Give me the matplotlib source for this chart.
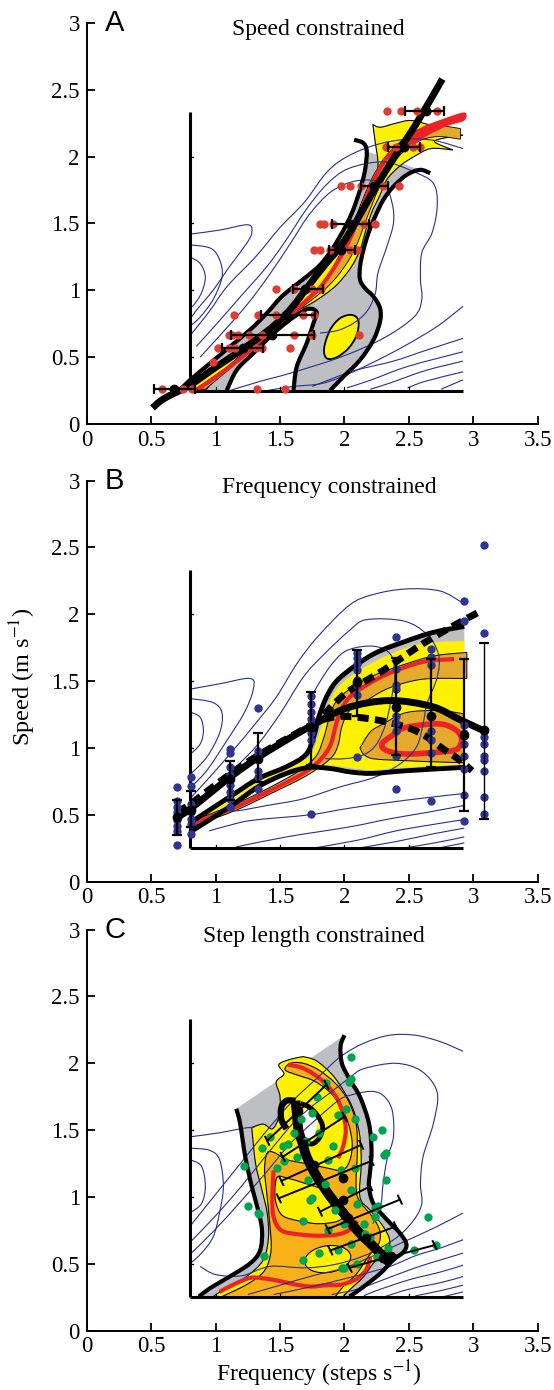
import numpy as np
import matplotlib
matplotlib.use("Agg")
import matplotlib.pyplot as plt
from matplotlib.path import Path
from matplotlib.patches import PathPatch, Ellipse

plt.rcParams['font.family'] = ['Liberation Serif', 'DejaVu Serif']
plt.rcParams['mathtext.fontset'] = 'stix'

NAVY = '#27308f'
GRAY = '#bdbfc2'
YELLOW = '#fff200'
GOLD = '#e5a92b'
ORANGE = '#f8b019'
RED = '#ec2227'
RED_DOT = '#e03c31'
BLUE_DOT = '#2e3592'
GREEN_DOT = '#00a551'

# ---------------- panel A : speed constrained ----------------
a_speed = [0.26, 0.567, 0.666, 0.816, 1.008, 1.303, 1.495, 1.777, 2.069, 2.338]
a_freq_pts = [
    [0.58, 0.67, 0.75, 0.82, 1.32, 1.54],
    [1.02, 1.10, 1.15, 1.22, 1.31, 1.36, 1.58],
    [1.10, 1.13, 1.17, 1.26, 1.36, 1.44, 1.61, 1.75, 2.11],
    [1.14, 1.33, 1.47, 1.55, 1.68, 1.76],
    [1.47, 1.61, 1.69, 1.75, 1.82],
    [1.76, 1.81, 1.89, 1.97, 2.04, 2.10],
    [1.81, 1.84, 1.91, 2.04, 2.15, 2.24],
    [1.97, 2.04, 2.13, 2.23, 2.30, 2.42],
    [2.32, 2.40, 2.46, 2.53, 2.59],
    [2.33, 2.44, 2.56, 2.64, 2.72],
]
a_mean = [0.68, 1.21, 1.44, 1.55, 1.69, 1.97, 2.04, 2.23, 2.46, 2.63]
a_lo = [0.52, 1.05, 1.12, 1.35, 1.60, 1.88, 1.90, 2.13, 2.34, 2.47]
a_hi = [0.84, 1.37, 1.76, 1.77, 1.83, 2.08, 2.19, 2.34, 2.59, 2.77]
a_extra = [(0.98, 0.46)]

a_model = [(0.51, 0.12), (0.60, 0.19), (0.80, 0.29), (1.01, 0.43), (1.27, 0.60), (1.47, 0.75),
           (1.60, 0.88), (1.71, 1.02), (1.84, 1.18), (1.97, 1.33), (2.07, 1.48), (2.17, 1.65),
           (2.28, 1.83), (2.41, 2.03), (2.56, 2.25), (2.76, 2.58)]
a_outer_left = [(2.075, 2.126), (2.147, 2.101), (2.173, 2.039), (2.160, 1.901), (2.121, 1.752),
                (2.057, 1.577), (1.979, 1.427), (1.901, 1.303), (1.811, 1.190), (1.707, 1.103),
                (1.591, 1.016), (1.500, 0.941), (1.397, 0.828), (1.267, 0.704), (1.112, 0.579),
                (0.957, 0.454), (0.802, 0.329), (0.724, 0.255)]
a_right = [(2.665, 1.876), (2.587, 1.901), (2.484, 1.864), (2.380, 1.776), (2.302, 1.677),
           (2.238, 1.552), (2.186, 1.427), (2.147, 1.302), (2.121, 1.178), (2.121, 1.078),
           (2.160, 1.015), (2.225, 0.953), (2.276, 0.866), (2.276, 0.766), (2.225, 0.629),
           (2.121, 0.479), (1.992, 0.354), (1.888, 0.25)]
a_hook = [(1.604, 0.25), (1.630, 0.429), (1.707, 0.604), (1.759, 0.754), (1.785, 0.828),
          (1.759, 0.858), (1.707, 0.858), (1.630, 0.816), (1.526, 0.741), (1.423, 0.654),
          (1.293, 0.529), (1.164, 0.404), (1.086, 0.25)]
a_bulb = [(1.862, 0.491), (1.842, 0.566), (1.888, 0.703), (1.966, 0.791), (2.056, 0.816),
          (2.108, 0.773), (2.095, 0.666), (2.031, 0.566), (1.940, 0.499)]
a_yel_left = [(0.78, 0.26), (1.01, 0.43), (1.27, 0.60), (1.47, 0.75), (1.60, 0.88), (1.71, 1.02),
              (1.84, 1.18), (1.97, 1.33), (2.07, 1.48), (2.17, 1.65), (2.24, 1.80), (2.26, 1.95),
              (2.24, 2.10), (2.22, 2.24)]
a_yel_top = [(2.22, 2.24), (2.28, 2.22), (2.40, 2.25), (2.52, 2.27), (2.68, 2.23), (2.82, 2.18), (2.92, 2.16)]
a_yel_notch = [(2.92, 2.16), (2.78, 2.14), (2.70, 2.11), (2.84, 2.05)]
a_yel_right = [(2.84, 2.05), (2.67, 2.06), (2.54, 2.00), (2.43, 1.93), (2.33, 1.83), (2.27, 1.70),
               (2.21, 1.58), (2.16, 1.43), (2.12, 1.30), (2.05, 1.17), (1.95, 1.05), (1.85, 0.97),
               (1.74, 0.90), (1.62, 0.84), (1.50, 0.76), (1.38, 0.67), (1.25, 0.56), (1.12, 0.45),
               (1.00, 0.34), (0.93, 0.26)]
a_gold_left = [(0.84, 0.26), (1.05, 0.40), (1.25, 0.55), (1.42, 0.69), (1.56, 0.81), (1.69, 0.92),
               (1.80, 1.02), (1.89, 1.14), (1.96, 1.26), (2.03, 1.40), (2.09, 1.55), (2.15, 1.70),
               (2.22, 1.85), (2.31, 1.99), (2.42, 2.10), (2.55, 2.19), (2.72, 2.23), (2.90, 2.21)]
a_gold_right = [(2.90, 2.13), (2.72, 2.15), (2.56, 2.11), (2.44, 2.02), (2.35, 1.91), (2.27, 1.77),
                (2.21, 1.63), (2.15, 1.48), (2.10, 1.35), (2.03, 1.22), (1.94, 1.10), (1.84, 1.00),
                (1.72, 0.91), (1.60, 0.82), (1.46, 0.71), (1.33, 0.60), (1.18, 0.47), (1.02, 0.34), (0.92, 0.26)]
a_red = [(0.86, 0.26), (1.03, 0.37), (1.18, 0.48), (1.33, 0.60), (1.47, 0.72), (1.60, 0.83),
         (1.71, 0.93), (1.81, 1.02), (1.90, 1.14), (1.97, 1.25), (2.04, 1.38), (2.10, 1.52),
         (2.16, 1.67), (2.22, 1.81), (2.30, 1.95), (2.40, 2.06), (2.52, 2.15), (2.70, 2.22), (2.93, 2.29)]
a_red_flare = [(2.45, 2.13), (2.60, 2.22), (2.76, 2.28), (2.93, 2.33), (2.93, 2.27), (2.80, 2.23),
               (2.65, 2.16), (2.52, 2.08)]
a_contours = [
    [(0.80, 1.42), (1.03, 1.45), (1.25, 1.49), (1.28, 1.43), (1.24, 1.35), (1.11, 1.18), (0.98, 1.00), (0.85, 0.85), (0.80, 0.78)],
    [(0.80, 1.34), (0.96, 1.315), (1.03, 1.23), (1.05, 1.10), (0.98, 0.93), (0.88, 0.80), (0.80, 0.73)],
    [(0.80, 1.25), (0.88, 1.20), (0.92, 1.10), (0.89, 0.98), (0.83, 0.89), (0.80, 0.87)],
    [(0.80, 0.66), (0.95, 0.84), (1.09, 1.03), (1.31, 1.25), (1.50, 1.47), (1.69, 1.66), (1.86, 1.88),
     (2.02, 2.00), (2.25, 2.09), (2.49, 2.13), (2.70, 2.12), (2.92, 2.06)],
    [(0.85, 0.58), (1.00, 0.74), (1.20, 0.96), (1.40, 1.18), (1.55, 1.38), (1.70, 1.60), (1.86, 1.79),
     (2.03, 1.91), (2.30, 1.96), (2.53, 1.89), (2.69, 1.80), (2.72, 1.63), (2.68, 1.43), (2.60, 1.28),
     (2.59, 1.08), (2.60, 0.93), (2.54, 0.80), (2.30, 0.64), (1.97, 0.50), (1.58, 0.38), (1.35, 0.32), (1.11, 0.25)],
    [(0.88, 0.50), (1.05, 0.68), (1.25, 0.90), (1.42, 1.12), (1.58, 1.35), (1.73, 1.57), (1.90, 1.74),
     (2.10, 1.82), (2.30, 1.80), (2.37, 1.65), (2.38, 1.50), (2.33, 1.33), (2.26, 1.13), (2.24, 0.98),
     (2.18, 0.85), (2.08, 0.76), (1.95, 0.70), (1.81, 0.68)],
    [(1.40, 0.25), (1.60, 0.28), (1.81, 0.30), (1.97, 0.35), (2.20, 0.45), (2.46, 0.58), (2.72, 0.73), (2.92, 0.88)],
    [(1.75, 0.28), (1.88, 0.33), (2.08, 0.40), (2.38, 0.47), (2.63, 0.55), (2.92, 0.64)],
    [(2.02, 0.27), (2.21, 0.33), (2.49, 0.43), (2.92, 0.54)],
    [(2.20, 0.26), (2.35, 0.305), (2.63, 0.40), (2.92, 0.47)],
    [(2.49, 0.27), (2.63, 0.32), (2.92, 0.39)],
    [(2.75, 0.26), (2.92, 0.33)],
]

# ---------------- panel B : frequency constrained ----------------
b_freq = [0.70, 0.81, 1.11, 1.33, 1.74, 2.10, 2.40, 2.67, 2.93, 3.08]
b_speed_pts = [
    [0.708, 0.60, 0.56, 0.52, 0.46, 0.42, 0.38, 0.273],
    [0.783, 0.713, 0.58, 0.52, 0.47, 0.43, 0.36],
    [0.99, 0.96, 0.86, 0.80, 0.72, 0.67, 0.62, 0.56],
    [1.30, 0.98, 0.94, 0.83, 0.78, 0.69],
    [1.39, 1.33, 1.27, 1.22, 1.17, 1.11, 1.06, 0.504],
    [1.71, 1.67, 1.63, 1.58, 1.51, 1.47, 1.40, 0.93],
    [1.83, 1.59, 1.47, 1.44, 1.30, 1.24, 1.19, 1.13, 0.94, 0.69],
    [1.74, 1.68, 1.62, 1.24, 1.13, 1.06, 0.96, 0.60],
    [2.10, 1.95, 1.17, 1.11, 1.03, 0.94, 0.84, 0.65, 0.455],
    [2.52, 1.86, 1.13, 1.08, 1.03, 0.94, 0.91, 0.83, 0.63, 0.51],
]
b_mean = [0.484, 0.539, 0.770, 0.919, 1.156, 1.491, 1.305, 1.243, 1.101, 1.131]
b_lo = [0.347, 0.410, 0.609, 0.745, 0.870, 1.243, 0.944, 0.857, 0.529, 0.472]
b_hi = [0.609, 0.678, 0.902, 1.113, 1.417, 1.735, 1.673, 1.665, 1.665, 1.785]

b_model = [(0.70, 0.48), (0.81, 0.55), (1.11, 0.78), (1.33, 0.93), (1.55, 1.06), (1.75, 1.17),
           (2.02, 1.30), (2.35, 1.355), (2.68, 1.31), (2.90, 1.21), (3.08, 1.13)]
b_dash_low = [(0.70, 0.52), (0.81, 0.585), (1.00, 0.725), (1.20, 0.865), (1.40, 0.985), (1.60, 1.095),
              (1.80, 1.20), (1.95, 1.235), (2.10, 1.23), (2.28, 1.205), (2.43, 1.17), (2.55, 1.13),
              (2.66, 1.07), (2.77, 0.99), (2.88, 0.92), (2.99, 0.83)]
b_dash_up = [(1.84, 1.25), (1.92, 1.33), (2.04, 1.43), (2.30, 1.58), (2.56, 1.75), (2.80, 1.89), (3.05, 2.02)]
b_band_low = [(0.80, 0.37), (1.11, 0.56), (1.33, 0.71), (1.55, 0.81), (1.73, 0.855), (1.90, 0.845),
              (2.05, 0.82), (2.22, 0.81), (2.48, 0.83), (2.93, 0.855)]
b_band_up = [(0.80, 0.44), (1.11, 0.635), (1.33, 0.77), (1.55, 0.86), (1.70, 0.95), (1.76, 1.08),
             (1.80, 1.23), (1.87, 1.40), (1.97, 1.53), (2.22, 1.70), (2.48, 1.80), (2.69, 1.865), (2.93, 1.91)]
b_yel_low = [(0.82, 0.40), (1.11, 0.59), (1.33, 0.73), (1.55, 0.83), (1.73, 0.875), (1.90, 0.87),
             (2.05, 0.85), (2.22, 0.835), (2.48, 0.855), (2.93, 0.875)]
b_yel_up = [(2.93, 1.80), (2.69, 1.79), (2.48, 1.75), (2.22, 1.64), (2.00, 1.50), (1.90, 1.38),
            (1.84, 1.22), (1.79, 1.07), (1.73, 0.94), (1.55, 0.85), (1.33, 0.76), (1.11, 0.62), (0.82, 0.43)]
b_gold_up = [(0.82, 0.455), (1.16, 0.585), (1.42, 0.705), (1.65, 0.83), (1.78, 0.94), (1.84, 1.08),
             (1.88, 1.22), (1.93, 1.34), (2.04, 1.44), (2.22, 1.54), (2.48, 1.63), (2.70, 1.69), (2.95, 1.715)]
b_gold_low = [(2.95, 1.52), (2.61, 1.515), (2.35, 1.45), (2.17, 1.355), (2.04, 1.28), (1.98, 1.16),
              (1.95, 1.02), (1.89, 0.92), (1.70, 0.79), (1.42, 0.655), (1.16, 0.535), (0.82, 0.415)]
b_red = [(0.83, 0.435), (0.91, 0.465), (1.16, 0.56), (1.42, 0.68), (1.68, 0.81), (1.81, 0.91),
         (1.89, 1.02), (1.93, 1.16), (1.97, 1.28), (2.04, 1.38), (2.17, 1.47), (2.35, 1.56),
         (2.61, 1.645), (2.85, 1.665)]
b_blob_top = [(2.12, 1.00), (2.20, 1.12), (2.30, 1.18), (2.48, 1.265), (2.74, 1.28), (2.93, 1.255)]
b_blob_bot = [(2.93, 0.89), (2.74, 0.895), (2.48, 0.905), (2.22, 0.92), (2.14, 0.96)]
b_ring = [(2.29, 1.03), (2.38, 1.10), (2.48, 1.155), (2.74, 1.18), (2.87, 1.13), (2.91, 1.06),
          (2.87, 0.99), (2.74, 0.97), (2.48, 0.955), (2.33, 0.98)]
b_contours = [
    [(0.80, 1.44), (1.03, 1.48), (1.27, 1.52), (1.29, 1.43), (1.22, 1.26), (1.09, 1.06), (0.93, 0.83), (0.80, 0.70)],
    [(0.80, 1.37), (0.98, 1.34), (1.05, 1.26), (1.03, 1.11), (0.93, 0.93), (0.80, 0.80)],
    [(0.80, 1.27), (0.88, 1.23), (0.905, 1.13), (0.88, 1.03), (0.80, 0.95)],
    [(0.80, 0.62), (0.98, 0.81), (1.16, 1.01), (1.29, 1.16), (1.47, 1.38), (1.63, 1.63), (1.79, 1.83),
     (2.04, 2.07), (2.23, 2.15), (2.48, 2.19), (2.74, 2.175), (2.91, 2.09)],
    [(0.85, 0.60), (0.98, 0.70), (1.16, 0.86), (1.33, 1.03), (1.50, 1.255), (1.68, 1.53), (1.84, 1.70),
     (2.04, 1.88), (2.17, 1.96), (2.46, 1.95), (2.64, 1.85), (2.73, 1.70), (2.72, 1.53), (2.64, 1.33),
     (2.61, 1.18), (2.56, 1.01), (2.43, 0.88), (2.23, 0.78), (1.97, 0.71), (1.68, 0.62), (1.40, 0.57),
     (1.16, 0.53), (1.08, 0.55)],
    [(1.75, 1.40), (1.88, 1.60), (2.00, 1.72), (2.15, 1.76), (2.28, 1.75), (2.37, 1.68), (2.39, 1.52),
     (2.36, 1.35), (2.32, 1.18), (2.25, 1.03), (2.15, 0.95), (2.00, 0.92), (1.85, 0.92)],
    [(0.95, 0.38), (1.10, 0.42), (1.29, 0.46), (1.73, 0.50), (2.04, 0.55), (2.48, 0.61), (2.93, 0.66)],
    [(1.16, 0.26), (1.55, 0.335), (2.04, 0.41), (2.35, 0.47), (2.65, 0.52), (2.93, 0.57)],
    [(1.75, 0.25), (2.10, 0.31), (2.40, 0.38), (2.70, 0.43), (2.93, 0.465)],
    [(2.10, 0.25), (2.40, 0.30), (2.70, 0.36), (2.93, 0.40)],
    [(2.45, 0.25), (2.70, 0.29), (2.93, 0.335)],
    [(2.72, 0.25), (2.93, 0.29)],
]

# ---------------- panel C : step length constrained ----------------
c_dots_f = [2.05, 2.035, 2.05, 1.86, 1.79, 2.01, 1.95, 2.08, 2.29, 2.22, 2.32, 2.31, 2.32, 2.65, 2.71,
            2.54, 2.26, 2.24, 2.16, 1.98, 2.00, 1.68, 1.375, 1.68, 1.75, 1.73, 1.87, 1.33, 1.335, 1.25,
            1.22, 1.36, 1.42, 1.52, 1.48, 1.53, 1.61, 1.66, 1.75, 1.80, 1.91, 1.87, 1.72, 1.97, 2.08,
            1.93, 2.24, 1.56, 1.63, 1.70, 1.85, 2.05, 2.10, 2.00, 2.15, 2.20, 2.05, 2.25, 1.95, 1.80, 2.10, 2.34]
c_dots_v = [2.05, 1.86, 1.88, 1.85, 1.75, 1.66, 1.61, 1.58, 1.50, 1.45, 1.33, 1.315, 1.13, 0.85, 0.64,
            0.60, 0.93, 0.92, 0.72, 0.47, 0.47, 0.53, 0.555, 0.82, 0.99, 0.98, 0.75, 0.88, 0.87, 0.93,
            1.23, 1.37, 1.45, 1.38, 1.22, 1.27, 1.48, 1.58, 1.63, 1.48, 1.38, 1.28, 1.13, 1.20, 1.22,
            0.90, 0.85, 1.40, 1.30, 1.42, 1.10, 1.05, 0.95, 0.80, 0.80, 0.70, 0.65, 0.55, 0.60, 0.58, 0.50, 0.62]
c_bar_f0 = [1.40, 1.52, 1.51, 1.49, 1.81, 1.87, 1.89, 2.04, 2.35]
c_bar_v0 = [1.42, 1.30, 1.12, 0.99, 0.89, 0.76, 0.60, 0.47, 0.55]
c_bar_f1 = [1.86, 2.00, 2.13, 2.21, 2.20, 2.43, 2.40, 2.33, 2.70]
c_bar_v1 = [1.84, 1.60, 1.39, 1.27, 1.08, 0.98, 0.78, 0.55, 0.64]
c_mean_f = [1.64, 1.68, 1.76, 1.99, 1.99, 2.03, 2.17, 2.30, 2.36]
c_mean_v = [1.64, 1.40, 1.24, 1.14, 0.98, 0.84, 0.69, 0.54, 0.56]

c_model = [(1.62, 1.72), (1.63, 1.62), (1.643, 1.50), (1.675, 1.40), (1.707, 1.30), (1.785, 1.153),
           (1.889, 1.004), (1.992, 0.879), (2.095, 0.754), (2.199, 0.654), (2.303, 0.554), (2.36, 0.50)]
c_loop = [(1.62, 1.72), (1.55, 1.72), (1.51, 1.67), (1.51, 1.58), (1.55, 1.51)]
c_loop2 = [(1.66, 1.70), (1.73, 1.67), (1.79, 1.61), (1.83, 1.53), (1.81, 1.45), (1.76, 1.40), (1.71, 1.40)]
c_left = [(1.16, 1.66), (1.19, 1.55), (1.23, 1.30), (1.28, 1.08), (1.33, 0.90), (1.36, 0.75),
          (1.345, 0.60), (1.27, 0.505), (1.11, 0.405), (0.96, 0.32), (0.87, 0.255)]
c_right = [(2.04, 0.255), (2.15, 0.33), (2.28, 0.43), (2.38, 0.53), (2.46, 0.59), (2.48, 0.65),
           (2.43, 0.73), (2.33, 0.83), (2.225, 0.95), (2.19, 1.08), (2.20, 1.20), (2.21, 1.35),
           (2.19, 1.55), (2.12, 1.75), (2.04, 1.88), (1.98, 2.00), (1.97, 2.13), (2.00, 2.21)]
c_yel_left = [(1.28, 1.52), (1.31, 1.25), (1.36, 1.05), (1.40, 0.88), (1.41, 0.70), (1.37, 0.53),
              (1.24, 0.405), (1.06, 0.305), (0.98, 0.255)]
c_yel_right = [(1.99, 0.255), (2.04, 0.305), (2.15, 0.405), (2.225, 0.505), (2.33, 0.60), (2.35, 0.68),
               (2.30, 0.78), (2.20, 0.90), (2.12, 1.00), (2.13, 1.25), (2.12, 1.45), (2.07, 1.65),
               (1.99, 1.80), (1.90, 1.92), (1.78, 2.02), (1.68, 2.05)]
c_yel_top = [(1.68, 2.05), (1.58, 2.03), (1.49, 1.99), (1.53, 1.92), (1.47, 1.86), (1.50, 1.75),
             (1.49, 1.60), (1.44, 1.51), (1.37, 1.545), (1.28, 1.52)]
c_org = [(1.05, 0.255), (1.25, 0.35), (1.38, 0.45), (1.43, 0.60), (1.42, 0.80), (1.40, 1.00), (1.38, 1.20),
         (1.40, 1.33), (1.46, 1.33), (1.55, 1.28), (1.70, 1.25), (1.85, 1.22), (1.98, 1.20), (2.04, 1.27),
         (2.06, 1.40), (2.03, 1.55), (1.97, 1.68), (1.88, 1.79), (1.76, 1.87), (1.64, 1.91), (1.54, 1.95),
         (1.58, 2.00), (1.68, 2.00), (1.80, 1.95), (1.93, 1.85), (2.03, 1.72), (2.09, 1.55), (2.10, 1.35),
         (2.09, 1.10), (2.11, 0.98), (2.21, 0.86), (2.27, 0.76), (2.27, 0.66), (2.19, 0.56), (2.09, 0.42),
         (1.99, 0.33), (1.93, 0.255)]
c_yel_mid = [(1.48, 1.15), (1.56, 1.14), (1.70, 1.10), (1.85, 1.05), (1.95, 0.98), (2.00, 0.88),
             (1.95, 0.82), (1.80, 0.80), (1.65, 0.82), (1.52, 0.86), (1.47, 0.95), (1.46, 1.05)]
c_red_u = [(1.45, 1.20), (1.44, 1.00), (1.45, 0.85), (1.51, 0.75), (1.65, 0.72), (1.80, 0.71),
           (1.95, 0.72), (2.05, 0.76), (2.10, 0.82)]
c_red_arc = [(1.56, 1.99), (1.66, 1.97), (1.76, 1.92), (1.86, 1.84), (1.94, 1.74), (1.99, 1.62),
             (2.01, 1.50), (1.99, 1.38), (1.95, 1.29)]
c_red_bot = [(1.03, 0.29), (1.15, 0.35), (1.27, 0.395), (1.38, 0.39), (1.50, 0.37), (1.62, 0.345),
             (1.74, 0.33), (1.86, 0.34), (1.98, 0.345), (2.10, 0.39), (2.17, 0.46), (2.20, 0.55)]
c_hole = (1.70, 1.53)
c_contours = [
    [(0.80, 1.45), (1.03, 1.48), (1.22, 1.515), (1.30, 1.52)],
    [(0.80, 1.365), (0.95, 1.35), (1.03, 1.28), (1.06, 1.08), (1.03, 0.88), (0.98, 0.70), (0.89, 0.58), (0.80, 0.50)],
    [(0.80, 1.28), (0.89, 1.23), (0.92, 1.08), (0.89, 0.95), (0.80, 0.88)],
    [(0.80, 0.78), (1.00, 1.02), (1.20, 1.26), (1.40, 1.50), (1.60, 1.72), (1.80, 1.90), (1.97, 2.05),
     (2.15, 2.15), (2.35, 2.21), (2.55, 2.21), (2.75, 2.16), (2.92, 2.09)],
    [(0.80, 0.66), (1.00, 0.86), (1.20, 1.08), (1.40, 1.32), (1.60, 1.55), (1.75, 1.68), (1.89, 1.78),
     (2.05, 1.90), (2.15, 1.96), (2.40, 2.00), (2.60, 1.94), (2.72, 1.78), (2.69, 1.55), (2.61, 1.30),
     (2.59, 1.10), (2.60, 0.95), (2.54, 0.83), (2.41, 0.70), (2.20, 0.58), (1.95, 0.50), (1.70, 0.47),
     (1.42, 0.48), (1.20, 0.41), (1.00, 0.42), (0.88, 0.48)],
    [(0.80, 0.57), (0.98, 0.74), (1.18, 0.95), (1.38, 1.17), (1.58, 1.40), (1.78, 1.58), (1.95, 1.72),
     (2.04, 1.76), (2.20, 1.79), (2.30, 1.76), (2.37, 1.65), (2.38, 1.45), (2.33, 1.28), (2.30, 1.10),
     (2.28, 0.93), (2.22, 0.80)],
    [(1.25, 0.27), (1.50, 0.34), (1.75, 0.41), (2.00, 0.47), (2.20, 0.55), (2.45, 0.66), (2.70, 0.77), (2.92, 0.88)],
    [(1.45, 0.27), (1.75, 0.33), (2.05, 0.40), (2.35, 0.48), (2.55, 0.56), (2.75, 0.62), (2.92, 0.68)],
    [(1.90, 0.27), (2.10, 0.31), (2.30, 0.38), (2.55, 0.47), (2.75, 0.53), (2.92, 0.58)],
    [(2.15, 0.26), (2.25, 0.30), (2.50, 0.38), (2.75, 0.44), (2.92, 0.49)],
    [(2.30, 0.25), (2.50, 0.31), (2.75, 0.36), (2.92, 0.405)],
    [(2.55, 0.26), (2.75, 0.30), (2.92, 0.34)],
    [(2.75, 0.25), (2.92, 0.29)],
]


def smooth_path(pts, closed=False):
    p = np.asarray(pts, float)
    if closed:
        p = np.vstack([p, p[:1]])
        ext = np.vstack([p[-2:-1], p, p[1:2]])
    else:
        ext = np.vstack([p[:1], p, p[-1:]])
    verts = [p[0]]
    codes = [Path.MOVETO]
    for i in range(len(p) - 1):
        p0, p1, p2, p3 = ext[i], ext[i + 1], ext[i + 2], ext[i + 3]
        verts += [p1 + (p2 - p0) / 6, p2 - (p3 - p1) / 6, p2]
        codes += [Path.CURVE4] * 3
    if closed:
        verts.append(p[0])
        codes.append(Path.CLOSEPOLY)
    return Path(verts, codes)


def chain(*segs):
    verts, codes = [], []
    for seg in segs:
        sp = smooth_path(seg)
        c = list(sp.codes)
        if verts:
            c[0] = Path.LINETO
        verts.extend(sp.vertices)
        codes.extend(c)
    verts.append(verts[0])
    codes.append(Path.CLOSEPOLY)
    return Path(verts, codes)


def fill(ax, path, color, ec='none', lw=0.0, z=1.0):
    ax.add_patch(PathPatch(path, fc=color, ec=ec, lw=lw, zorder=z))


def curve(ax, pts, color='k', lw=1.0, z=3.0, ls='-', closed=False):
    ax.add_patch(PathPatch(smooth_path(pts, closed), fc='none', ec=color, lw=lw, ls=ls,
                           zorder=z, capstyle='butt', joinstyle='round'))


def base_axes(fig, bottom, letter, title, tx):
    ax = fig.add_axes([0.1567, bottom, 0.8139, 0.2885])
    ax.set_xlim(0, 3.5)
    ax.set_ylim(0, 3)
    for s in ['top', 'right']:
        ax.spines[s].set_visible(False)
    for s in ['left', 'bottom']:
        ax.spines[s].set_linewidth(1.4)
    ax.set_xticks(np.arange(0, 3.51, 0.5))
    ax.set_xticklabels(['0', '0.5', '1', '1.5', '2', '2.5', '3', '3.5'])
    ax.set_yticks(np.arange(0, 3.01, 0.5))
    ax.set_yticklabels(['0', '0.5', '1', '1.5', '2', '2.5', '3'])
    ax.tick_params(direction='in', length=6, width=1.3, labelsize=16.5)
    ax.tick_params(axis='x', pad=4)
    ax.tick_params(axis='y', pad=5)
    ax.text(0.14, 3.0, letter, family=['Liberation Sans', 'DejaVu Sans'], fontsize=21,
            va='center', ha='left')
    ax.text(tx, 2.95, title, fontsize=17, ha='center', va='center')
    # inner frame of the landscape
    ax.plot([0.8, 0.8], [0.25, 2.33], color='k', lw=2.2, zorder=2.5, solid_capstyle='butt')
    ax.plot([0.8, 2.92], [0.25, 0.25], color='k', lw=2.2, zorder=2.5, solid_capstyle='butt')
    for yy in [0.5, 1.0, 1.5, 2.0]:
        ax.plot([0.8, 0.825], [yy, yy], color='k', lw=0.9, zorder=2.5)
    for xx in [1.0, 1.5, 2.0, 2.5]:
        ax.plot([xx, xx], [0.25, 0.275], color='k', lw=0.9, zorder=2.5)
    return ax


fig = plt.figure(figsize=(5.54, 13.9), dpi=100)

# ---------- A ----------
ax = base_axes(fig, 0.6950, 'A', 'Speed constrained', 1.80)
fill(ax, chain(a_right[1:], [(1.888, 0.25), (1.604, 0.25)], a_hook, [(1.086, 0.25), (0.724, 0.25)],
               a_outer_left[::-1][:-2], [(2.173, 2.039), (2.587, 1.901)]), GRAY, z=1.0)
fill(ax, chain(a_yel_left, a_yel_top, a_yel_notch, a_yel_right, [(0.93, 0.26), (0.78, 0.26)]),
     YELLOW, ec='k', lw=0.8, z=1.1)
fill(ax, chain(a_gold_left, a_gold_right, [(0.92, 0.26), (0.84, 0.26)]), GOLD, ec='k', lw=0.6, z=1.2)
curve(ax, a_red, RED, lw=3.0, z=1.3)
fill(ax, smooth_path(a_red_flare, closed=True), RED, z=1.3)
fill(ax, smooth_path(a_bulb, closed=True), YELLOW, ec='k', lw=1.3, z=1.4)
for c in a_contours:
    curve(ax, c, NAVY, lw=0.8, z=2.0)
curve(ax, a_outer_left, 'k', lw=3.0, z=4)
curve(ax, a_right, 'k', lw=3.0, z=4)
curve(ax, a_hook, 'k', lw=3.0, z=4)
curve(ax, a_model, 'k', lw=5.0, z=4.5)
for s, fs in zip(a_speed, a_freq_pts):
    ax.plot(fs, [s] * len(fs), 'o', color=RED_DOT, ms=6, mec='none', zorder=5)
ax.plot([p[0] for p in a_extra], [p[1] for p in a_extra], 'o', color=RED_DOT, ms=6, mec='none', zorder=5)
for s, m, lo, hi in zip(a_speed, a_mean, a_lo, a_hi):
    ax.errorbar([m], [s], xerr=[[m - lo], [hi - m]], fmt='o', color='k', ms=6, elinewidth=1.6,
                capsize=3.5, capthick=1.6, zorder=6)

# ---------- B ----------
ax = base_axes(fig, 0.3657, 'B', 'Frequency constrained', 1.88)
fill(ax, chain(b_band_low, [(2.93, 0.855), (2.93, 1.91)], b_band_up[::-1]), GRAY, z=1.0)
fill(ax, chain(b_yel_low, b_yel_up), YELLOW, z=1.1)
fill(ax, chain(b_gold_up, [(2.95, 1.715), (2.95, 1.52)], b_gold_low), GOLD, ec='k', lw=0.7, z=1.2)
fill(ax, chain(b_blob_top, [(2.93, 1.255), (2.93, 0.89)], b_blob_bot), GOLD, ec='k', lw=0.7, z=1.2)
curve(ax, b_red, RED, lw=3.0, z=1.3)
curve(ax, b_ring, RED, lw=4.0, z=1.3, closed=True)
for c in b_contours:
    curve(ax, c, NAVY, lw=0.8, z=2.0)
curve(ax, b_band_low, 'k', lw=3.5, z=4)
curve(ax, b_band_up, 'k', lw=3.5, z=4)
curve(ax, b_model, 'k', lw=5.0, z=4.5)
curve(ax, b_dash_low, 'k', lw=5.0, z=4.5, ls=(0, (1.6, 0.9)))
curve(ax, b_dash_up, 'k', lw=5.0, z=4.5, ls=(0, (1.6, 0.9)))
for f, vs in zip(b_freq, b_speed_pts):
    ax.plot([f] * len(vs), vs, 'o', color=BLUE_DOT, ms=6, mec='none', zorder=5)
for i, (f, m, lo, hi) in enumerate(zip(b_freq, b_mean, b_lo, b_hi)):
    ax.errorbar([f], [m], yerr=[[m - lo], [hi - m]], fmt='o', color='k', ms=6,
                elinewidth=1.6 if i < 9 else 1.0, capsize=3.5, capthick=1.6, zorder=6)
fig.text(23 / 554, 1 - 676.7 / 1390, 'Speed (m s$^{-1}$)', rotation=90, fontsize=17.5,
         ha='center', va='center')

# ---------- C ----------
ax = base_axes(fig, 0.0427, 'C', 'Step length constrained', 1.76)
fill(ax, chain(c_left, [(0.87, 0.255), (2.04, 0.255)], c_right, [(2.00, 2.21), (1.16, 1.66)]), GRAY, z=1.0)
fill(ax, chain(c_yel_left, [(0.98, 0.255), (1.99, 0.255)], c_yel_right, c_yel_top), YELLOW, ec='k', lw=0.8, z=1.1)
fill(ax, smooth_path(c_org), ORANGE, ec='k', lw=0.8, z=1.2)
fill(ax, smooth_path(c_yel_mid, closed=True), YELLOW, ec='k', lw=0.8, z=1.3)
ax.add_patch(Ellipse((1.87, 0.535), 0.36, 0.2, angle=8, fc=YELLOW, ec='k', lw=0.8, zorder=1.3))
curve(ax, c_red_u, RED, lw=3.0, z=1.4)
curve(ax, c_red_arc, RED, lw=3.0, z=1.4)
curve(ax, c_red_bot, RED, lw=3.0, z=1.4)
ax.add_patch(Ellipse(c_hole, 0.17, 0.27, angle=-15, fc='white', ec='none', zorder=1.5))
for c in c_contours:
    curve(ax, c, NAVY, lw=0.8, z=2.0)
curve(ax, c_left, 'k', lw=3.0, z=4)
curve(ax, c_right, 'k', lw=3.0, z=4)
curve(ax, c_loop, 'k', lw=4.5, z=4)
curve(ax, c_loop2, 'k', lw=3.5, z=4)
curve(ax, c_model, 'k', lw=7.0, z=4.5)
ax.plot(c_dots_f, c_dots_v, 'o', color=GREEN_DOT, ms=6, mec='none', zorder=5)
for f0, v0, f1, v1 in zip(c_bar_f0, c_bar_v0, c_bar_f1, c_bar_v1):
    ax.plot([f0, f1], [v0, v1], color='k', lw=1.4, zorder=6)
    for ff, vv in [(f0, v0), (f1, v1)]:
        ax.plot([ff - 0.015, ff + 0.015], [vv + 0.03, vv - 0.03], color='k', lw=1.4, zorder=6)
ax.plot(c_mean_f, c_mean_v, 'o', color='k', ms=6, zorder=6.5)
fig.text(318.8 / 554, 1 - 1389 / 1390, 'Frequency (steps s$^{-1}$)', fontsize=17,
         ha='center', va='bottom')

fig.savefig('out.png', dpi=100)
